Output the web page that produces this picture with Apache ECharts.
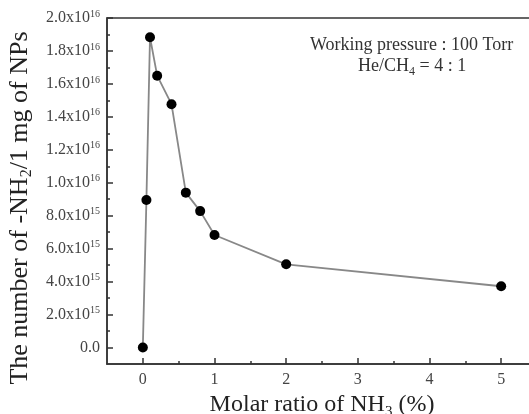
<!DOCTYPE html>
<html>
<head>
<meta charset="utf-8">
<script src="https://cdn.jsdelivr.net/npm/echarts@6/dist/echarts.min.js"></script>
<style>html,body{margin:0;padding:0;background:#fff}#c{width:529px;height:414px}</style>
</head>
<body>
<div id="c"></div>
<script>
var xValues = [0, 0.05, 0.1, 0.2, 0.4, 0.6, 0.8, 1.0, 2, 5];
var yValues = [0, 8.95e15, 1.883e16, 1.65e16, 1.477e16, 9.4e15, 8.28e15, 6.83e15, 5.05e15, 3.72e15];
var xMajorTicks = [0, 1, 2, 3, 4, 5];
var xMinorTicks = [0.5, 1.5, 2.5, 3.5, 4.5];
var yMajorTicks = [0, 2e15, 4e15, 6e15, 8e15, 1e16, 1.2e16, 1.4e16, 1.6e16, 1.8e16, 2e16];
var yMinorTicks = [1e15, 3e15, 5e15, 7e15, 9e15, 1.1e16, 1.3e16, 1.5e16, 1.7e16, 1.9e16];

var FONT = '"Liberation Serif", "Times New Roman", serif';
var data = xValues.map(function (x, i) { return [x, yValues[i]]; });

function yFmt(v) {
  if (v === 0) return '{n|0.0}';
  var e = Math.floor(Math.log10(v) + 1e-9);
  var m = v / Math.pow(10, e);
  return '{n|' + m.toFixed(1) + 'x10}{sup|' + e + '}';
}

var lineSty = { color: '#333', width: 1.5 };

var chart = echarts.init(document.getElementById('c'));
chart.setOption({
  animation: false,
  grid: { left: 107, top: 18, width: 430, height: 346, outerBoundsMode: 'none', containLabel: false,
          show: true, borderColor: '#333', borderWidth: 1.5, backgroundColor: 'transparent' },
  xAxis: [{
    type: 'value', min: -0.5, max: 5.5, interval: 0.5,
    splitLine: { show: false },
    axisLine: { show: true, onZero: false, lineStyle: lineSty },
    axisTick: { show: true, inside: true, length: 6, customValues: xMajorTicks, lineStyle: lineSty },
    axisLabel: { customValues: xMajorTicks, color: '#444', fontFamily: FONT, fontSize: 16, margin: 8 },
    name: '{n|Molar ratio of NH}{sub|3}{n| (%)}',
    nameLocation: 'middle', nameGap: 19,
    nameTextStyle: { rich: {
      n: { fontFamily: FONT, fontSize: 24, color: '#222' },
      sub: { fontFamily: FONT, fontSize: 15, color: '#222', verticalAlign: 'bottom', padding: [14, 0, 0, 0] }
    } }
  }, {
    type: 'value', min: -0.5, max: 5.5, interval: 0.5, position: 'bottom',
    splitLine: { show: false },
    axisLine: { show: false, onZero: false },
    axisTick: { show: true, inside: true, length: 3, customValues: xMinorTicks, lineStyle: lineSty },
    axisLabel: { show: false }
  }],
  yAxis: [{
    type: 'value', min: -1e15, max: 2e16, interval: 1e15,
    splitLine: { show: false },
    axisLine: { show: true, onZero: false, lineStyle: lineSty },
    axisTick: { show: true, inside: true, length: 6, customValues: yMajorTicks, lineStyle: lineSty },
    axisLabel: {
      customValues: yMajorTicks, margin: 7, formatter: yFmt,
      rich: {
        n: { fontFamily: FONT, fontSize: 16, color: '#444' },
        sup: { fontFamily: FONT, fontSize: 10, color: '#444', verticalAlign: 'top', padding: [0, 0, 8, 0] }
      }
    },
    name: '{n|The number of -NH}{sub|2}{n|/1 mg of NPs}',
    nameLocation: 'middle', nameGap: 69, nameRotate: 90,
    nameTextStyle: { padding: [0, 34, 0, 0], rich: {
      n: { fontFamily: FONT, fontSize: 26, color: '#222' },
      sub: { fontFamily: FONT, fontSize: 16, color: '#222', verticalAlign: 'bottom', padding: [14, 0, 0, 0] }
    } }
  }, {
    type: 'value', min: -1e15, max: 2e16, interval: 1e15, position: 'left',
    splitLine: { show: false },
    axisLine: { show: false, onZero: false },
    axisTick: { show: true, inside: true, length: 3, customValues: yMinorTicks, lineStyle: lineSty },
    axisLabel: { show: false }
  }],
  graphic: [{
    type: 'text', left: 310, top: 36,
    style: { text: 'Working pressure : 100 Torr', font: '18px ' + FONT, fill: '#333' }
  }, {
    type: 'text', left: 358, top: 57,
    style: {
      text: '{n|He/CH}{sub|4}{n| = 4 : 1}',
      rich: {
        n: { fontFamily: FONT, fontSize: 18, fill: '#333' },
        sub: { fontFamily: FONT, fontSize: 12, fill: '#333', verticalAlign: 'bottom', padding: [12, 0, 0, 0] }
      }
    }
  }],
  series: [{
    type: 'line', xAxisIndex: 0, yAxisIndex: 0, data: data,
    symbol: 'circle', symbolSize: 10,
    itemStyle: { color: '#000' },
    lineStyle: { color: '#888', width: 1.8 }
  }]
});
</script>
</body>
</html>
